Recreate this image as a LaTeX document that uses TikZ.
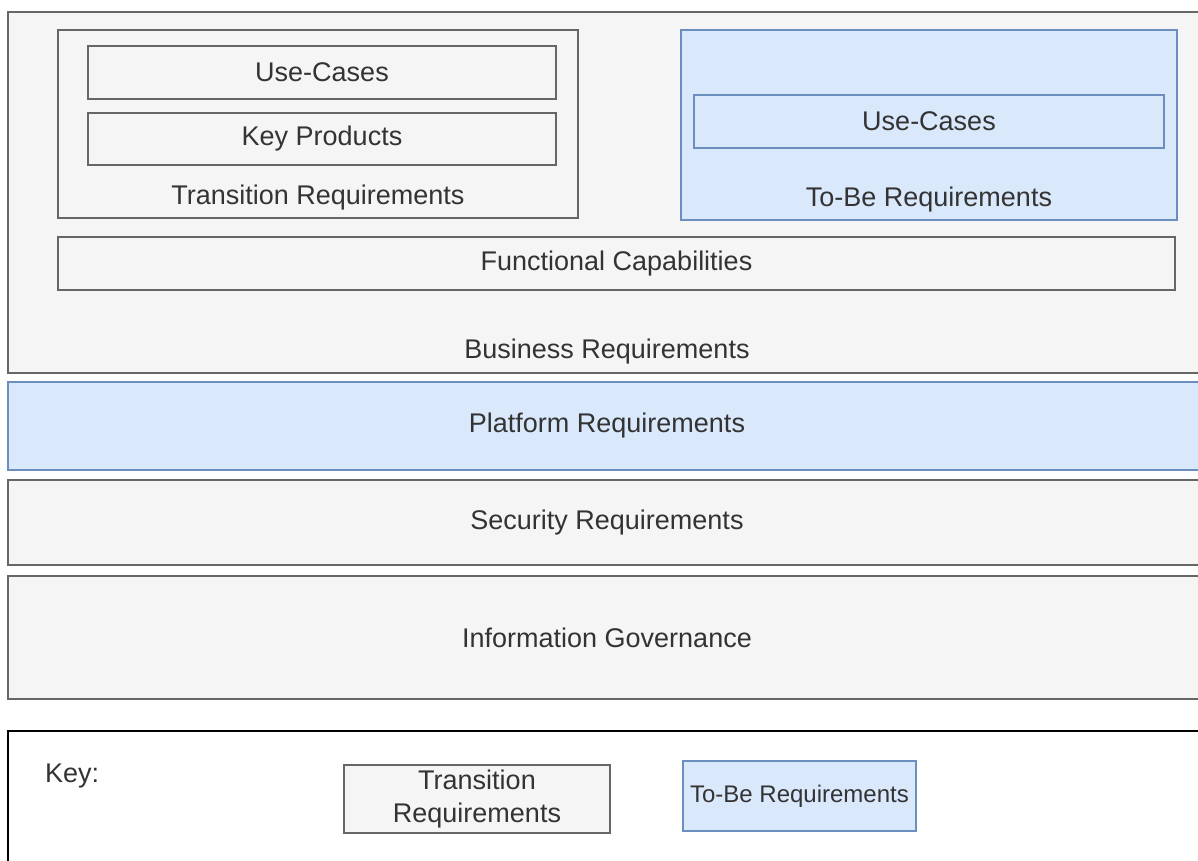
\documentclass[tikz,border=0pt]{standalone}
\usepackage{fontspec}
\setmainfont{Liberation Sans}
\definecolor{gfill}{HTML}{F5F5F5}
\definecolor{gline}{HTML}{666666}
\definecolor{bfill}{HTML}{DAE8FC}
\definecolor{bline}{HTML}{6C8EBF}
\definecolor{txt}{HTML}{333333}
\tikzset{
  base/.style={rectangle, inner sep=0pt, line width=1.5pt, text=txt, font=\fontsize{27}{33}\selectfont, align=center},
  graybox/.style={base, draw=gline, fill=gfill},
  bluebox/.style={base, draw=bline, fill=bfill},
  keybox/.style={base, draw=black, fill=white},
  lbl/.style={inner sep=0pt, text=txt, font=\fontsize{27}{33}\selectfont}
}
\begin{document}
\begin{tikzpicture}[x=1pt,y=-1pt]
\useasboundingbox (0,0) rectangle (1198,861);
\clip (0,0) rectangle (1198,861);
\fill[white] (0,0) rectangle (1198,861);
% business requirements
\node[graybox, minimum width=1198pt, minimum height=361pt] (br) at (607,192.5) {};
\node[lbl] (brl) at (607,352) {Business Requirements};
% transition requirements
\node[graybox, minimum width=520pt, minimum height=188pt] (tr) at (318,124) {};
\node[graybox, minimum width=468pt, minimum height=53pt] (uc1) at (322,72.5) {Use-Cases};
\node[graybox, minimum width=468pt, minimum height=52pt] (kp) at (322,139) {Key Products};
\node[lbl] (trl) at (318,198) {Transition Requirements};
% to-be requirements
\node[bluebox, minimum width=496pt, minimum height=190pt] (tb) at (929,125) {};
\node[bluebox, minimum width=470pt, minimum height=53pt] (uc2) at (929,121.5) {Use-Cases};
\node[lbl] (tbl) at (929,200) {To-Be Requirements};
% functional capabilities
\node[graybox, minimum width=1117pt, minimum height=53pt] (fc) at (616.5,263.5) {Functional Capabilities};
% layers
\node[bluebox, minimum width=1198pt, minimum height=88pt] (pr) at (607,426) {Platform Requirements};
\node[graybox, minimum width=1198pt, minimum height=85pt] (sr) at (607,522.5) {Security Requirements};
\node[graybox, minimum width=1198pt, minimum height=123pt] (ig) at (607,637.5) {Information Governance};
% key
\node[keybox, minimum width=1198pt, minimum height=168pt] (key) at (607,815) {};
\node[lbl, anchor=west] (keyl) at (45,776) {Key:};
\node[graybox, minimum width=266pt, minimum height=68pt] (kt) at (477,799) {Transition\\Requirements};
\node[bluebox, minimum width=233pt, minimum height=70pt, font=\fontsize{24}{30}\selectfont] (ktb) at (799.5,796) {To-Be Requirements};
\end{tikzpicture}
\end{document}
